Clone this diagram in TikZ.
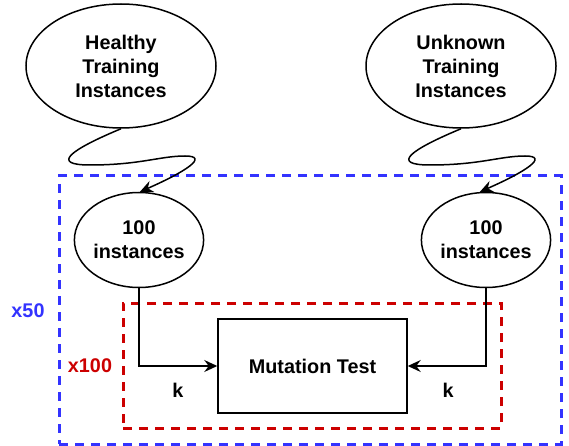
\documentclass[tikz,border=0pt]{standalone}
\usepackage{fontspec}
\setmainfont{Liberation Sans}
\usetikzlibrary{shapes.geometric,arrows.meta}
\definecolor{dblue}{RGB}{51,51,255}
\definecolor{dred}{RGB}{204,0,0}
\begin{document}
\begin{tikzpicture}[x=1pt,y=-1pt,
  txt/.style={font=\fontsize{19.8}{24}\selectfont\bfseries, align=center},
  bigell/.style={ellipse, draw, line width=1.5pt, minimum width=190pt, minimum height=124pt, inner sep=0pt, txt},
  smallell/.style={ellipse, draw, line width=1.5pt, minimum width=127pt, minimum height=95pt, inner sep=0pt, txt},
  testbox/.style={rectangle, draw, line width=1.5pt, minimum width=189pt, minimum height=94pt, inner sep=0pt, txt},
  conn/.style={draw, line width=1.5pt, -{Stealth[length=13pt,width=12pt,inset=4.5pt]}},
  blueframe/.style={rectangle, draw=dblue, line width=3pt, dash pattern=on 9pt off 7pt, inner sep=0pt},
  redframe/.style={rectangle, draw=dred, line width=3pt, dash pattern=on 9pt off 7pt, inner sep=0pt},
]
\useasboundingbox (0,0) rectangle (569,446);

% frames
\node[blueframe, minimum width=502pt, minimum height=268pt] (outer) at (310,310) {};
\node[redframe, minimum width=378pt, minimum height=125pt] (inner) at (312,365.5) {};

% nodes
\node[bigell] (h) at (121,66) {Healthy\\Training\\Instances};
\node[bigell] (u) at (461,66) {Unknown\\Training\\Instances};
\node[smallell] (l1) at (139,240) {100\\instances};
\node[smallell] (r1) at (486,240) {100\\instances};
\node[testbox] (mt) at (312.5,366) {Mutation Test};

% labels
\node[txt, text=dblue] (x50) at (28,311) {x50};
\node[txt, text=dred] (x100) at (90,366) {x100};
\node[txt] (kl) at (178,390) {k};
\node[txt] (kr) at (448,390) {k};

% squiggly connectors
\draw[conn] (h.south) .. controls (70,150) and (50,165) .. (90,165)
  .. controls (140,165) and (160,156) .. (185,156)
  .. controls (210,156) and (185,172) .. ([xshift=1pt]l1.north);
\draw[conn] (u.south) .. controls (410,150) and (390,165) .. (430,165)
  .. controls (480,165) and (500,156) .. (525,156)
  .. controls (550,156) and (525,172) .. ([xshift=-6pt]r1.north);

% lower connectors
\draw[conn] (l1.south) |- (mt.west);
\draw[conn] (r1.south) |- (mt.east);
\end{tikzpicture}
\end{document}
